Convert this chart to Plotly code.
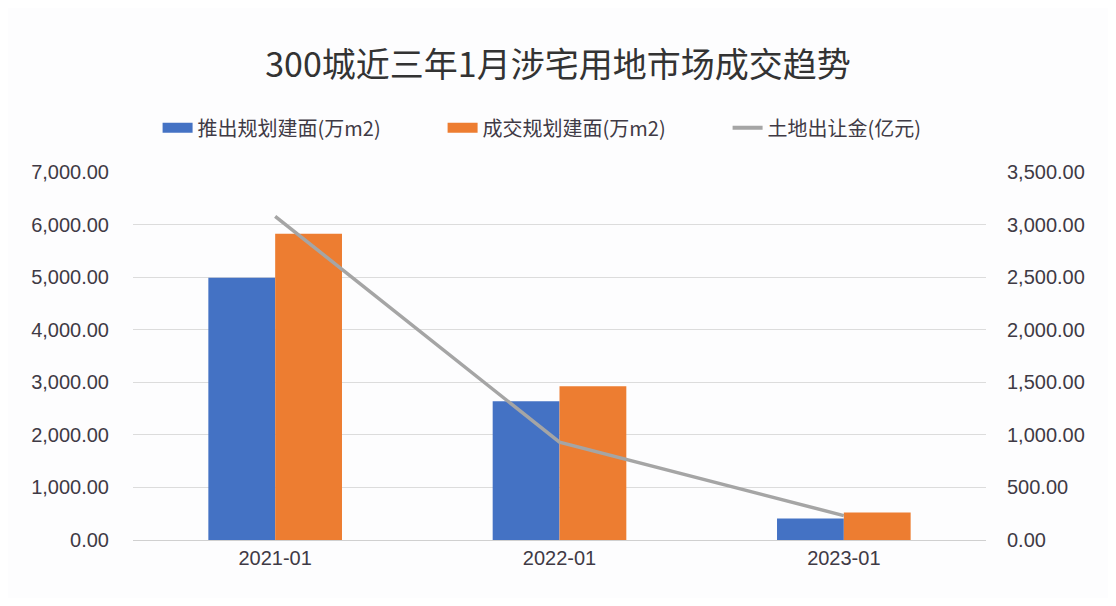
import plotly.graph_objects as go

categories = ["2021-01", "2022-01", "2023-01"]
supply_area = [4990, 2638, 410]      # 推出规划建面(万m2)
deal_area = [5824, 2924, 521]        # 成交规划建面(万m2)
land_fee = [3079, 930, 232]          # 土地出让金(亿元)

names = ["推出规划建面(万m2)", "成交规划建面(万m2)", "土地出让金(亿元)"]
colors = ["#4472C4", "#ED7D31", "#A5A5A5"]
left_ticks = [0, 1000, 2000, 3000, 4000, 5000, 6000, 7000]
right_ticks = [0, 500, 1000, 1500, 2000, 2500, 3000, 3500]

FONT = "Liberation Sans, Noto Sans CJK SC, sans-serif"
W, H = 1100, 590  # page body adds an 8px margin

fig = go.Figure()
fig.add_trace(go.Bar(x=categories, y=supply_area, name=names[0], marker_color=colors[0],
                     marker_line_width=0, showlegend=False))
fig.add_trace(go.Bar(x=categories, y=deal_area, name=names[1], marker_color=colors[1],
                     marker_line_width=0, showlegend=False))
fig.add_trace(go.Scatter(x=categories, y=land_fee, name=names[2], mode="lines",
                         line=dict(color=colors[2], width=3.5), yaxis="y2", showlegend=False))

# legend entries (wide swatches)
for n, c, w in zip(names, colors, [12, 12, 4]):
    fig.add_trace(go.Scatter(x=[None], y=[None], mode="lines", name=n,
                             line=dict(color=c, width=w), showlegend=True))

fig.update_layout(
    width=W, height=H,
    paper_bgcolor="#FDFDFE", plot_bgcolor="#FDFDFE",
    margin=dict(l=125, r=122, t=164, b=58),
    font=dict(family=FONT, size=20, color="#3F3A45"),
    title=dict(text="300城近三年1月涉宅用地市场成交趋势", x=0.5, xanchor="center",
               y=1 - 57 / H, yanchor="middle",
               font=dict(size=34, color="#333333", family="Noto Sans CJK SC, sans-serif")),
    barmode="group", bargap=0.53, bargroupgap=0,
    legend=dict(orientation="h", x=0.53, xanchor="center", y=1.12, yanchor="middle",
                font=dict(size=20, family="Noto Sans CJK SC, sans-serif"),
                entrywidth=240, bgcolor="rgba(0,0,0,0)"),
    xaxis=dict(type="category", showgrid=False, showline=True, linecolor="#D0D0D0",
               linewidth=1, ticks="", tickfont=dict(size=20)),
    yaxis=dict(range=[0, 7000], tickvals=left_ticks, tickformat=",.2f",
               showgrid=True, gridcolor="#DCDCDC", gridwidth=1, zeroline=False,
               ticks="", ticklabelstandoff=23),
    yaxis2=dict(range=[0, 3500], tickvals=right_ticks, tickformat=",.2f",
                overlaying="y", side="right", showgrid=False, zeroline=False,
                ticks="", ticklabelstandoff=20),
)

fig.write_html("out.html")
